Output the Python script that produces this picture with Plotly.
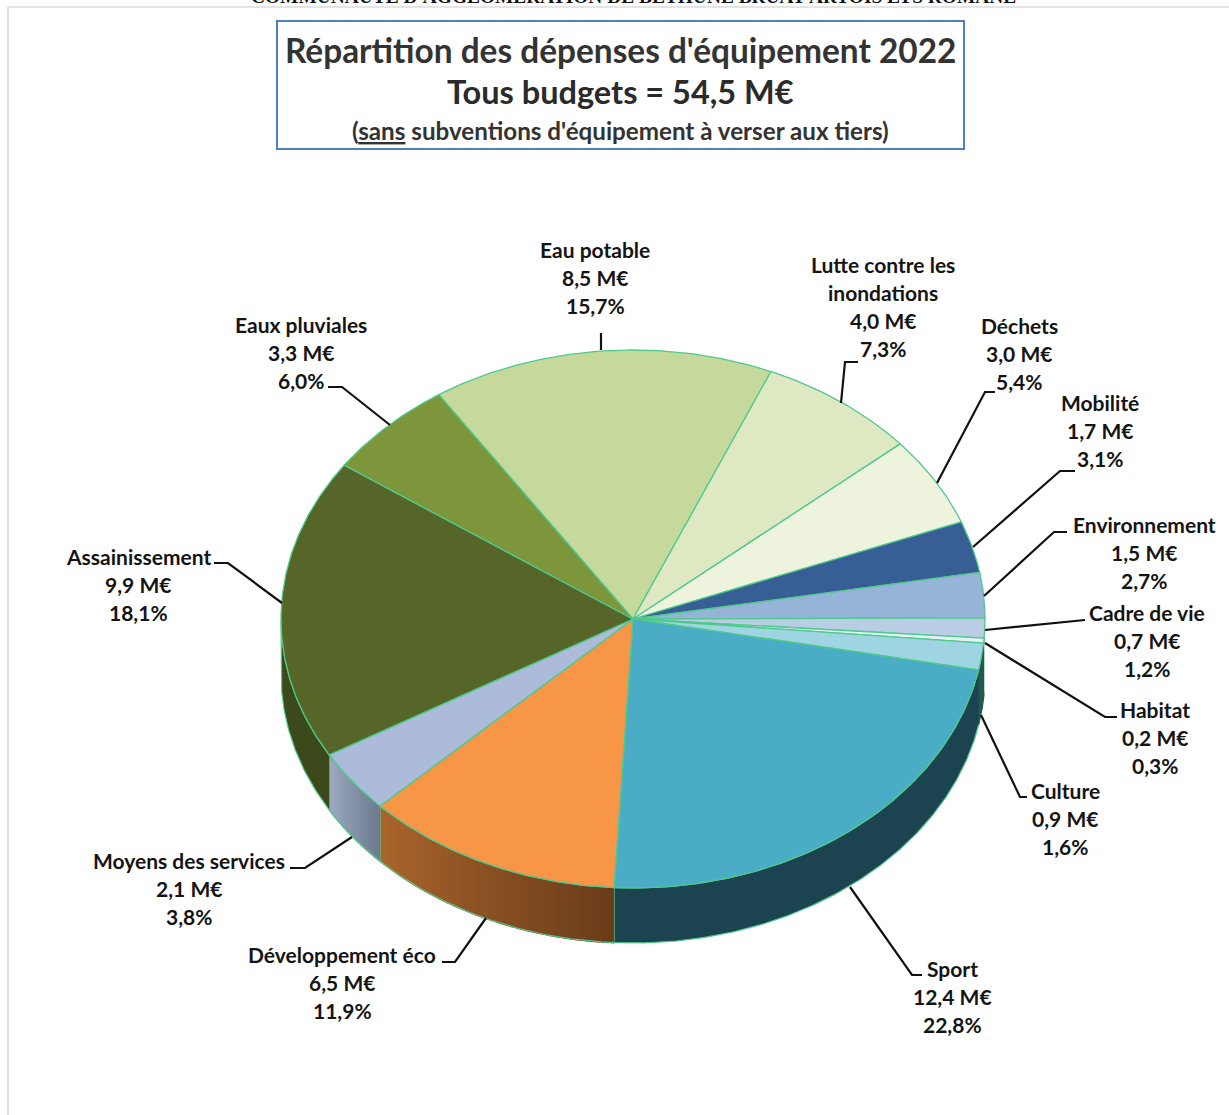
import math
import plotly.graph_objects as go

# ---- data ----
categories = [["Eau potable"], ["Lutte contre les", "inondations"], ["Déchets"], ["Mobilité"],
              ["Environnement"], ["Cadre de vie"], ["Habitat"], ["Culture"], ["Sport"],
              ["Développement éco"], ["Moyens des services"], ["Assainissement"], ["Eaux pluviales"]]
montants = [8.5, 4.0, 3.0, 1.7, 1.5, 0.7, 0.2, 0.9, 12.4, 6.5, 2.1, 9.9, 3.3]
pourcentages = [15.7, 7.3, 5.4, 3.1, 2.7, 1.2, 0.3, 1.6, 22.8, 11.9, 3.8, 18.1, 6.0]

# ---- styles ----
top_colors = ["#c6d99c", "#dee8c3", "#eef3de", "#375f95", "#96b3d8", "#b9cde5", "#e2f3f6",
              "#9fd4e3", "#4bacc6", "#f79646", "#abbbd9", "#566528", "#7d963c"]
wall_colors = [None, None, None, None, None, None, "#1f5a4e", "#1f5a4e",
               "#1c4450", ("#ab652c", "#693c19"), ("#9dabc2", "#6e7a8e"), "#3c4a1b", "#4a5c24"]
EDGE = "#4fc98c"
INK = "#141414"
CX, CY, RX, RY, DEPTH = 633, 619, 352, 269, 55
START = 326.5
FONT = "Lato"

# label layout: centre x, first line y, leader waypoints
label_pos = [(595, 249), (883, 264), (1019, 325), (1100, 402), (1144, 524), (1147, 612), (1155, 709),
             (1065, 790), (952, 968), (342, 954), (189, 860), (138, 556), (301, 324)]
leaders = [[(601, 350), (601, 333)],
           [(841, 403), (845, 362), (858, 362)],
           [(937, 483), (985, 392), (995, 392)],
           [(973, 547), (1060, 471), (1075, 471)],
           [(984, 596), (1054, 532), (1067, 532)],
           [(985, 630), (1085, 620)],
           [(985, 643), (1105, 717), (1117, 717)],
           [(981, 715), (1020, 797), (1027, 797)],
           [(850, 887), (912, 975), (922, 975)],
           [(486, 918), (455, 962), (442, 962)],
           [(352, 837), (305, 868), (290, 868)],
           [(282, 603), (228, 563), (214, 563)],
           [(390, 425), (342, 387), (328, 387)]]


def pt(t, dy=0):
    r = math.radians(t)
    return CX + RX * math.sin(r), CY - RY * math.cos(r) + dy


def arc(a, b, dy=0, step=0.5):
    n = max(2, int(abs(b - a) / step) + 1)
    return [pt(a + (b - a) * i / (n - 1), dy) for i in range(n)]


def mix(c1, c2, f):
    a = [int(c1[i:i + 2], 16) for i in (1, 3, 5)]
    b = [int(c2[i:i + 2], 16) for i in (1, 3, 5)]
    return "#%02x%02x%02x" % tuple(round(p + (q - p) * f) for p, q in zip(a, b))


fig = go.Figure()


def poly(points, fill, line=None, width=1.0):
    fig.add_trace(go.Scatter(x=[p[0] for p in points], y=[p[1] for p in points], mode="lines",
                             fill="toself", fillcolor=fill, line=dict(color=line or fill, width=width),
                             hoverinfo="skip", showlegend=False))


# angular spans computed from the percentages
spans, a = [], START
total = sum(pourcentages)
for p in pourcentages:
    spans.append((a, a + p * 360 / total))
    a += p * 360 / total

# walls (visible between 90° and 270°)
for (a0, a1), wc in zip(spans, wall_colors):
    for shift in (0, 360, -360):
        lo, hi = max(a0 + shift, 90), min(a1 + shift, 270)
        if lo >= hi or wc is None:
            continue
        if isinstance(wc, tuple):
            n = 48
            for i in range(n):
                s0, s1 = lo + (hi - lo) * i / n, lo + (hi - lo) * (i + 1) / n
                # the shading runs from the left (lighter) to the right (darker)
                f = 1 - (i + 0.5) / n
                poly(arc(s0, s1) + arc(s1, s0, DEPTH), mix(wc[0], wc[1], f), None, 1.6)
            poly(arc(lo, hi) + arc(hi, lo, DEPTH), "rgba(0,0,0,0)", EDGE, 1.2)
        else:
            poly(arc(lo, hi) + arc(hi, lo, DEPTH), wc, EDGE if wc != "#1f5a4e" else wc, 1.2)

# top wedges
for (a0, a1), c in zip(spans, top_colors):
    poly([(CX, CY)] + arc(a0, a1) + [(CX, CY)], c, EDGE, 1.3)

# leaders
for w in leaders:
    fig.add_trace(go.Scatter(x=[p[0] for p in w], y=[p[1] for p in w], mode="lines",
                             line=dict(color="#111111", width=2.2), hoverinfo="skip", showlegend=False))

ann = []


def text(x, y, s, size, color=INK, bold=True):
    ann.append(dict(x=x, y=y, xref="x", yref="y", text=f"<b>{s}</b>" if bold else s, showarrow=False,
                    xanchor="center", yanchor="middle",
                    font=dict(family=FONT, size=size, color=color)))


def fr(v):
    return f"{v:.1f}".replace(".", ",")


for name, m, p, (cx, y0) in zip(categories, montants, pourcentages, label_pos):
    lines = list(name) + [f"{fr(m)} M€", f"{fr(p)}%"]
    for i, s in enumerate(lines):
        text(cx, y0 + (0 if i == 0 else 1) + i * 27.8, s, 21)

# title
text(620, 50, "Répartition des dépenses d'équipement 2022", 33.4, "#333333")
text(620, 91, "Tous budgets = 54,5 M€", 32.5, "#2a2a2a")
text(620, 130, "(<u>sans</u> subventions d'équipement à verser aux tiers)", 24.2, "#333333")
# the page header is cut by the top edge of the picture, as in the reference
ann.append(dict(x=633 / 1229, y=1 + 4 / 1115, xref="paper", yref="paper", showarrow=False,
                xanchor="center", yanchor="middle",
                text="<b>COMMUNAUTE D'AGGLOMERATION DE BETHUNE BRUAY ARTOIS LYS ROMANE</b>",
                font=dict(family="Liberation Serif", size=19.4, color="#111111")))

shapes = [
    dict(type="rect", xref="x", yref="y", x0=277, x1=964, y0=21, y1=149,
         line=dict(color="#4f81bd", width=2), fillcolor="rgba(0,0,0,0)"),
    dict(type="line", xref="x", yref="y", x0=8, x1=8, y0=7, y1=1115, line=dict(color="#dcdcdc", width=2)),
    dict(type="line", xref="x", yref="y", x0=8, x1=1229, y0=7, y1=7, line=dict(color="#e4e4e4", width=2)),
]

fig.update_layout(
    width=1229, height=1115, margin=dict(l=0, r=0, t=0, b=0),
    paper_bgcolor="white", plot_bgcolor="white", showlegend=False,
    xaxis=dict(range=[0, 1229], visible=False, fixedrange=True),
    yaxis=dict(range=[1115, 0], visible=False, fixedrange=True),
    annotations=ann, shapes=shapes,
)
fig.write_html("out.html", config={"displayModeBar": False},
               post_script="document.body.style.margin='0';document.body.style.overflow='hidden';")
